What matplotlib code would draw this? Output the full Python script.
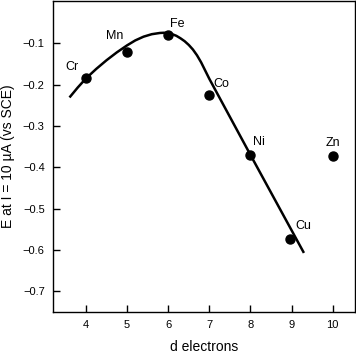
import numpy as np
import matplotlib.pyplot as plt

plt.rcParams['font.family'] = ['Liberation Sans', 'DejaVu Sans']

# Measured points
elements = ['Cr', 'Mn', 'Fe', 'Co', 'Ni', 'Cu', 'Zn']
d_elec = [4, 5, 6, 7, 8, 8.95, 10]
potential = [-0.185, -0.12, -0.081, -0.224, -0.37, -0.574, -0.373]

# Trend curve
curve_x = [3.6, 3.8, 4.0, 4.25, 4.5, 4.75, 5.0, 5.2, 5.4, 5.6, 5.8, 5.9, 6.0,
           6.1, 6.2, 6.3, 6.4, 6.5, 6.6, 6.7, 6.8, 7.0, 8.0, 9.3]
curve_y = [-0.231, -0.207, -0.185, -0.162, -0.141, -0.122, -0.105, -0.093,
           -0.084, -0.078, -0.075, -0.0745, -0.0755, -0.078, -0.082, -0.088,
           -0.095, -0.104, -0.115, -0.129, -0.146, -0.186, -0.37, -0.607]

# Label offsets in points
label_off = {'Cr': (-15, 4), 'Mn': (-15, 7), 'Fe': (1, 4), 'Co': (3, 3),
             'Ni': (2, 5), 'Cu': (4, 5), 'Zn': (-5, 5)}

fig = plt.figure(figsize=(3.56, 3.53), dpi=100)
ax = fig.add_axes([0.149, 0.116, 0.848, 0.882])

ax.plot(curve_x, curve_y, color='black', lw=1.8, solid_capstyle='butt',
        solid_joinstyle='round')
ax.plot(d_elec, potential, 'o', color='black', ms=6.5)

for el, x, y in zip(elements, d_elec, potential):
    ax.annotate(el, (x, y), xytext=label_off[el], textcoords='offset points',
                fontsize=9, ha='left', va='bottom')

ax.set_xlim(3.2, 10.54)
ax.set_ylim(-0.75, 0.003)
ax.set_xticks([4, 5, 6, 7, 8, 9, 10])
ax.set_yticks([-0.1, -0.2, -0.3, -0.4, -0.5, -0.6, -0.7])
ax.set_yticklabels(['\u22120.1', '\u22120.2', '\u22120.3', '\u22120.4',
                    '\u22120.5', '\u22120.6', '\u22120.7'])
ax.tick_params(direction='in', length=5, width=1, labelsize=8, pad=6)
for s in ax.spines.values():
    s.set_linewidth(1)

ax.set_xlabel('d electrons', fontsize=10, labelpad=7)
ax.set_ylabel('E at I = 10 \u00b5A (vs SCE)', fontsize=10, labelpad=6)

fig.savefig('out.png', dpi=100)
